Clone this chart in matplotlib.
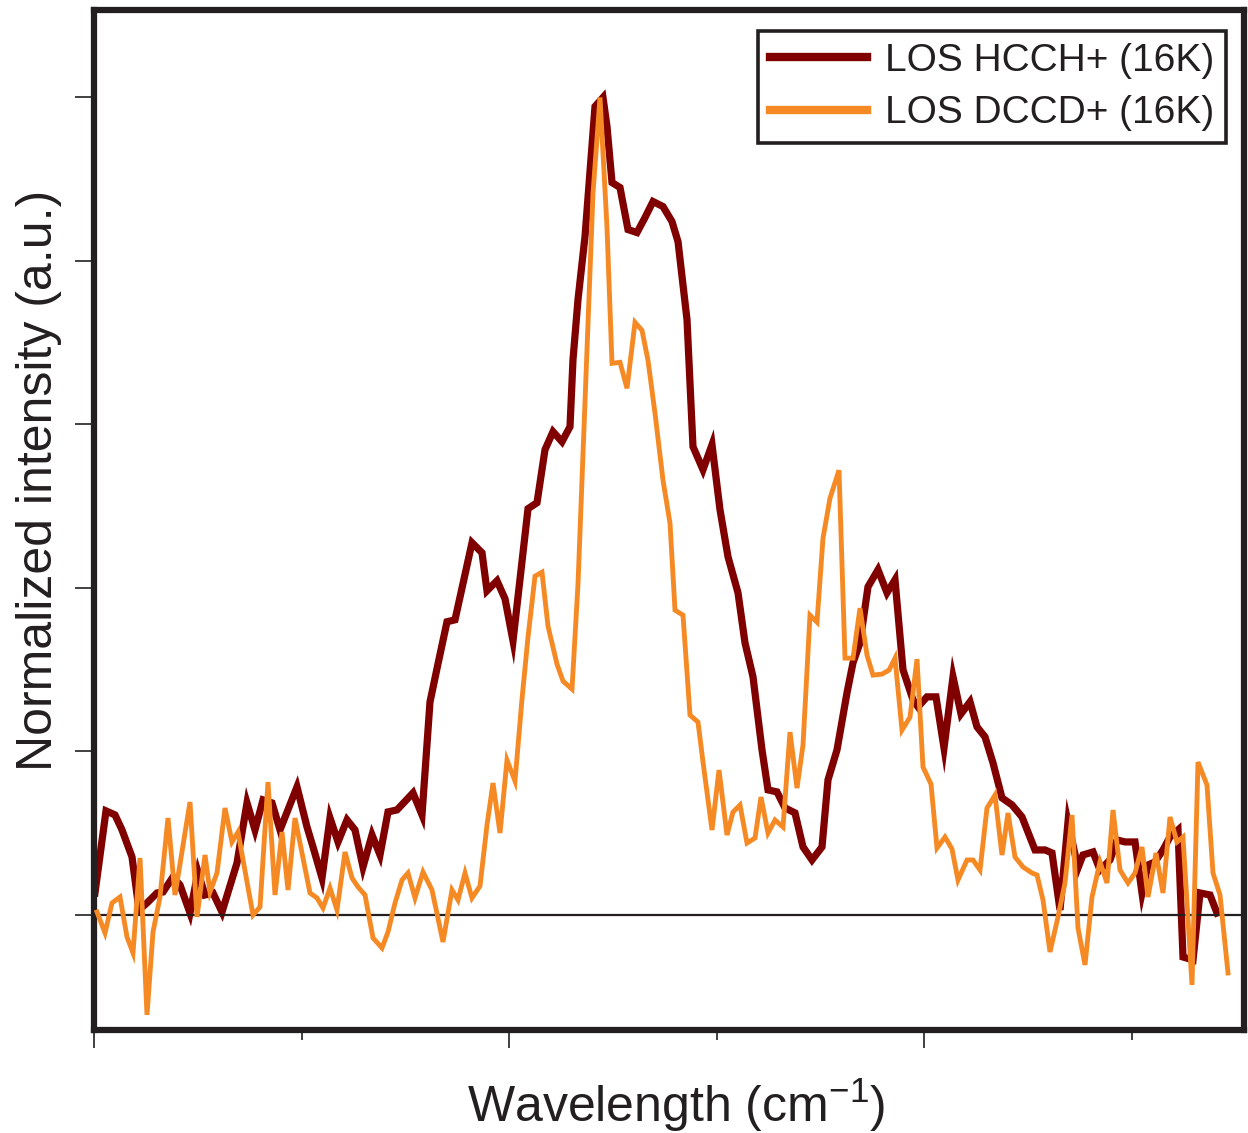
import numpy as np
import matplotlib
matplotlib.use("Agg")
import matplotlib.pyplot as plt
from matplotlib.lines import Line2D

plt.rcParams['font.family'] = ['Liberation Sans', 'DejaVu Sans']
plt.rcParams['mathtext.fontset'] = 'custom'
plt.rcParams['mathtext.rm'] = 'Liberation Sans'
plt.rcParams['mathtext.it'] = 'Liberation Sans'

# ---- data (arbitrary wavenumber units, raw intensity; normalized below) ----
hcch_x = [1, 12, 21, 28, 38, 45, 53, 63, 69, 79, 86, 96, 104, 111, 119, 128, 143, 153, 161, 169,
          178, 186, 203, 213, 219, 228, 236, 244, 253, 261, 269, 278, 286, 294, 303, 319, 328, 336,
          344, 353, 361, 378, 388, 393, 403, 411, 419, 434, 443, 451, 459, 468, 476, 479, 484, 491,
          501, 509, 513, 518, 526, 534, 543, 551, 559, 569, 578, 584, 593, 599, 609, 618, 626, 634,
          644, 651, 659, 668, 674, 683, 691, 701, 709, 718, 728, 734, 743, 753, 759, 766, 774, 784,
          793, 801, 809, 819, 824, 833, 842, 850, 859, 867, 876, 883, 891, 899, 908, 918, 928, 941,
          951, 958, 966, 974, 984, 989, 999, 1006, 1016, 1023, 1031, 1041, 1048, 1054, 1061, 1069,
          1076, 1084, 1089, 1099, 1106, 1116, 1123]
hcch_y = [22, 104, 100, 85, 58, 5, 12, 22, 23, 38, 30, 2, 43, 20, 22, 3, 52, 112, 85, 115,
          112, 85, 128, 88, 68, 37, 97, 73, 95, 85, 48, 80, 60, 103, 105, 122, 100, 213,
          251, 293, 295, 372, 362, 324, 334, 316, 274, 406, 412, 465, 483, 473, 488, 555, 615, 678,
          808, 817, 788, 732, 727, 685, 682, 697, 713, 708, 693, 673, 595, 468, 445, 470, 405, 358,
          322, 272, 238, 165, 125, 123, 107, 102, 68, 55, 68, 135, 165, 222, 252, 272, 328, 345,
          322, 335, 245, 215, 208, 218, 218, 167, 238, 201, 213, 188, 178, 152, 117, 110, 98, 65,
          65, 62, 5, 93, 47, 60, 63, 45, 55, 75, 73, 73, 22, 50, 53, 65,
          78, 85, -42, -45, 22, 20, 2]

dccd_x = [3, 11, 18, 26, 33, 39, 46, 53, 59, 66, 74, 81, 96, 103, 111, 116, 123, 131, 138, 144,
          159, 166, 174, 181, 188, 194, 201, 216, 223, 229, 236, 243, 251, 258, 264, 271, 279, 288,
          294, 301, 308, 314, 321, 329, 338, 349, 358, 364, 371, 378, 386, 393, 399, 406, 413, 421,
          428, 434, 441, 448, 454, 463, 469, 478, 484, 499, 506, 513, 518, 526, 533, 541, 548, 554,
          561, 569, 576, 581, 589, 596, 604, 609, 618, 625, 633, 639, 646, 653, 661, 667, 674, 681,
          689, 696, 703, 709, 716, 723, 729, 736, 745, 751, 759, 766, 773, 779, 788, 795, 801, 808,
          816, 823, 829, 837, 843, 851, 858, 864, 873, 879, 886, 893, 901, 908, 914, 921, 929, 938,
          943, 949, 956, 964, 971, 978, 984, 991, 998, 1006, 1013, 1019, 1026, 1034, 1041, 1048,
          1054, 1062, 1069, 1076, 1083, 1089, 1098, 1104, 1113, 1119, 1126, 1134]
dccd_y = [3, -18, 12, 18, -22, -38, 57, -100, -17, 18, 97, 20, 113, -2, 60, 23, 42, 107, 73, 83,
          0, 8, 133, 20, 83, 25, 97, 22, 17, 7, 27, 5, 63, 37, 28, 20, -23, -33,
          -17, 12, 35, 42, 17, 43, 25, -27, 25, 15, 42, 17, 29, 90, 132, 82, 155, 134,
          216, 278, 339, 343, 289, 251, 234, 226, 331, 722, 818, 688, 552, 553, 527, 593, 585, 555,
          502, 435, 392, 305, 300, 200, 193, 153, 85, 145, 80, 103, 110, 72, 77, 118, 82, 95,
          88, 183, 127, 170, 300, 293, 377, 417, 445, 257, 257, 307, 260, 240, 241, 245, 257, 185,
          198, 256, 148, 131, 67, 78, 66, 35, 55, 55, 45, 107, 120, 60, 102, 58, 48, 42,
          40, 15, -37, -2, 32, 100, -13, -50, 18, 53, 32, 105, 45, 32, 42, 68,
          18, 62, 22, 98, 73, 78, -70, 153, 130, 42, 20, -58]

labels = ["LOS HCCH+ (16K)", "LOS DCCD+ (16K)"]
colors = ["#800000", "#f58a25"]

hcch_x = np.array(hcch_x, float)
dccd_x = np.array(dccd_x, float)
hcch_n = np.array(hcch_y, float) / max(hcch_y)
dccd_n = np.array(dccd_y, float) / max(dccd_y)

fig = plt.figure(figsize=(12.48, 11.33), dpi=100)
ax = fig.add_axes([94 / 1248, 1 - 1030 / 1133, 1150 / 1248, 1020 / 1133])

ax.axhline(0, color="#231f20", lw=1.6, zorder=2.5)
ax.plot(hcch_x, hcch_n, color=colors[0], lw=5.2, zorder=2, solid_joinstyle='miter')
ax.plot(dccd_x, dccd_n, color=colors[1], lw=3.5, zorder=3, solid_joinstyle='miter')

ax.set_xlim(0, 1150)
ax.set_ylim(-0.1407, 1.107)

step = 207.6
ax.set_xticks(np.arange(0, 1100, 2 * step))
ax.set_xticks(np.arange(step, 1150, 2 * step), minor=True)
ax.set_yticks([0, 0.2, 0.4, 0.6, 0.8, 1.0])
ax.tick_params(axis='both', which='both', direction='out', labelbottom=False, labelleft=False,
               color='#231f20', width=1.2)
ax.tick_params(axis='y', which='major', length=13.5)
ax.tick_params(axis='x', which='major', length=13)
ax.tick_params(axis='x', which='minor', length=7.2)

for s in ax.spines.values():
    s.set_linewidth(4.5)
    s.set_color('#231f20')

ax.set_xlabel("Wavelength (cm$^{\\mathregular{-1}}$)", fontsize=36, color='#231f20')
ax.xaxis.set_label_coords(0.506, -0.046)
ax.xaxis.label.set_va('top')
ax.set_ylabel("Normalized intensity (a.u.)", fontsize=36, color='#231f20')
ax.yaxis.set_label_coords(-0.028, 0.539)

handles = [Line2D([], [], color=colors[0], lw=6), Line2D([], [], color=colors[1], lw=6)]
leg = ax.legend(handles, labels, loc='upper right', bbox_to_anchor=(0.984, 0.979),
                borderaxespad=0, fontsize=28, frameon=True, fancybox=False, framealpha=1,
                handlelength=2.5, handletextpad=0.45, labelspacing=0.42, borderpad=0.3)
leg.get_frame().set_edgecolor('#231f20')
leg.get_frame().set_linewidth(2.6)
for t in leg.get_texts():
    t.set_color('#231f20')

fig.savefig("out.png", dpi=100)
